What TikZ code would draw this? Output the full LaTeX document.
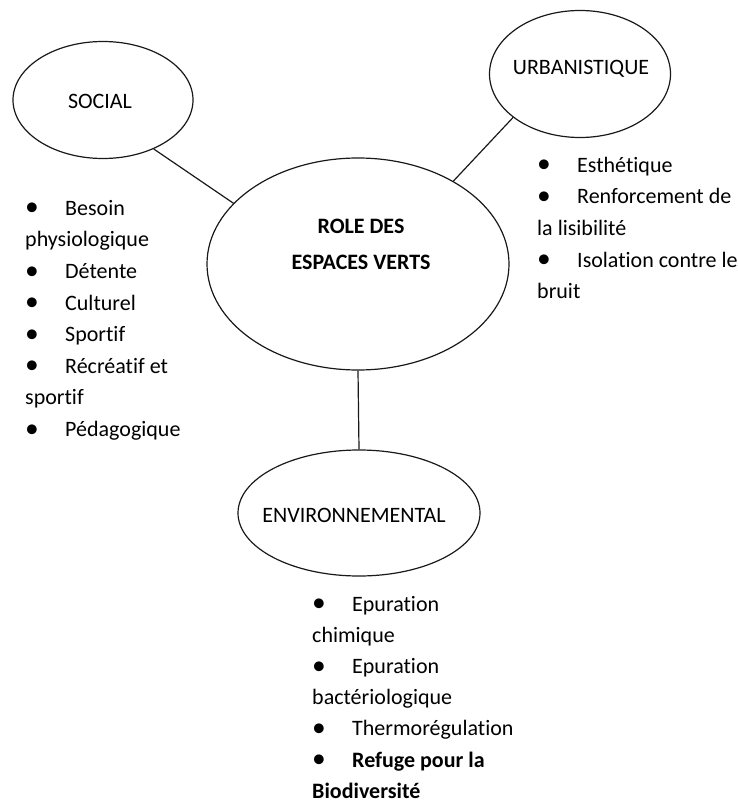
\documentclass[tikz,border=0pt]{standalone}
\usepackage{fontspec}
\setmainfont{Carlito}[RawFeature={-liga;-clig;-dlig;-calt}]
\usetikzlibrary{shapes.geometric}
\tikzset{
  bulle/.style={draw=black!90, line width=1.2pt, ellipse, inner sep=0pt},
  titre/.style={font=\fontsize{22}{36}\selectfont, inner sep=0pt, anchor=base},
  liste/.style={font=\fontsize{22}{31.6}\selectfont, align=left, inner sep=0pt, anchor=north west},
  lien/.style={draw=black!90, line width=1.2pt}
}
\newcommand{\puce}{\makebox[40pt][l]{\raisebox{-0.6pt}{\scalebox{1.25}{\textbullet}}}}
\begin{document}
\begin{tikzpicture}[x=1pt,y=-1pt]
\useasboundingbox (0,0) rectangle (738,805);

% les quatre ellipses
\node[bulle, minimum width=180pt, minimum height=117pt] (social) at (103,100) {};
\node[bulle, minimum width=181pt, minimum height=127pt] (urba) at (580,74) {};
\node[bulle, minimum width=302pt, minimum height=212pt] (role) at (358,264) {};
\node[bulle, minimum width=242pt, minimum height=126pt] (envi) at (359,513) {};

\node[titre] (tsocial) at (100,109) {SOCIAL};
\node[titre] (turba) at (581,75) {URBANISTIQUE};
\node[titre, align=center, anchor=north] (trole) at (361,207.8) {\strut\bfseries ROLE DES\\\bfseries ESPACES VERTS};
\node[titre] (tenvi) at (354,522) {ENVIRONNEMENTAL};

% liens
\draw[lien] (social.-44) -- (role.154);
\draw[lien] (urba.213) -- (role.41);
\draw[lien] (role.south) -- (envi.north);

% listes
\node[liste] (lsocial) at (25,193) {\strut\puce Besoin\\physiologique\\\puce D\'etente\\\puce Culturel\\\puce Sportif\\\puce R\'ecr\'eatif et\\sportif\\\puce P\'edagogique};
\node[liste] (lurba) at (537,150) {\strut\puce Esth\'etique\\\puce Renforcement de\\la lisibilit\'e\\\puce Isolation contre le\\bruit};
\node[liste, font=\fontsize{22}{31.2}\selectfont] (lenvi) at (312,589) {\strut\puce Epuration\\chimique\\\puce Epuration\\bact\'eriologique\\\puce Thermor\'egulation\\\puce\textbf{Refuge pour la}\\\textbf{Biodiversit\'e}};
\end{tikzpicture}
\end{document}
